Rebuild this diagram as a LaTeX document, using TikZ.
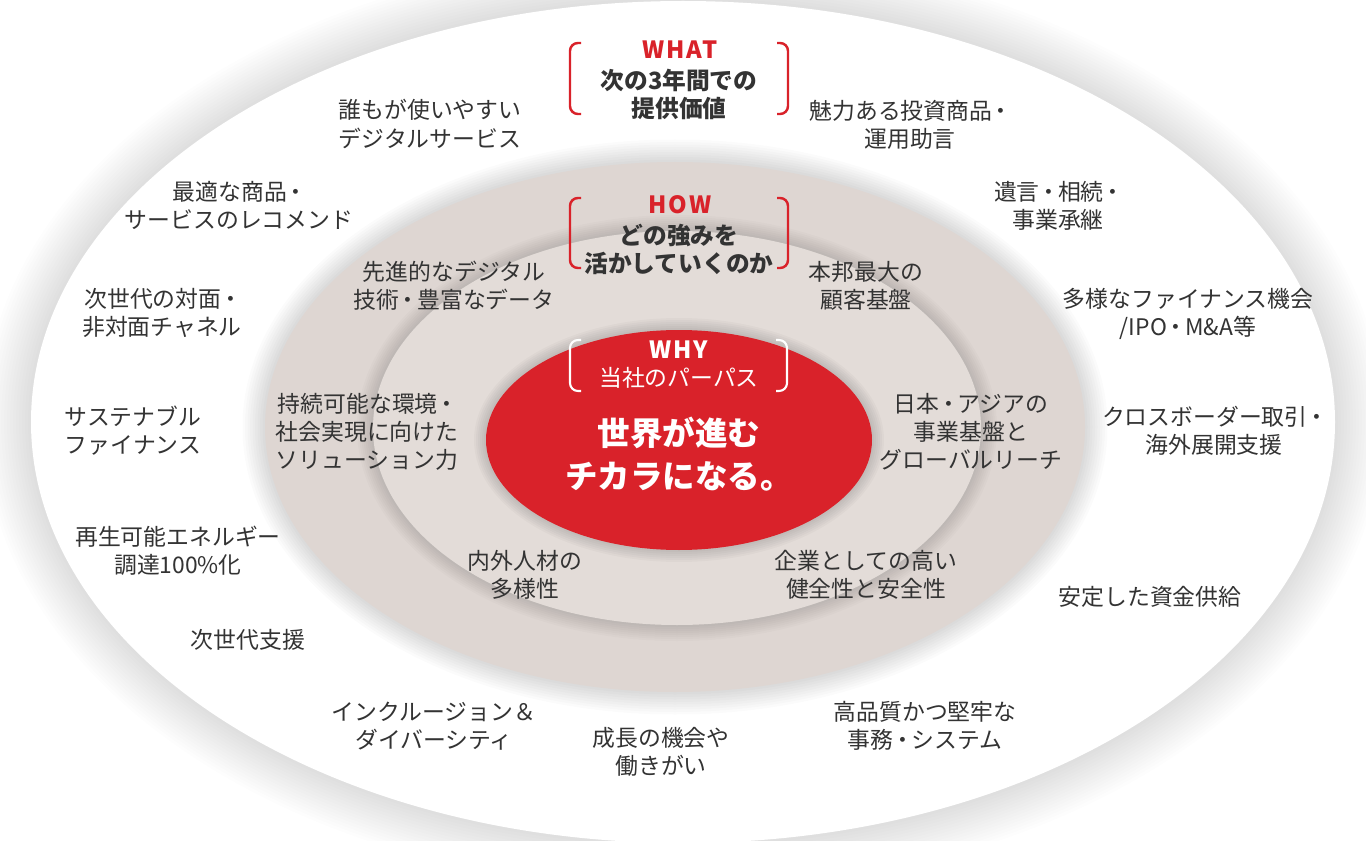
\documentclass[tikz,border=0pt]{standalone}
\usepackage{fontspec}
\setmainfont{Noto Sans CJK JP}
\newcommand\nk{\kern-0.1em・\kern-0.1em}
\definecolor{bred}{HTML}{D9222A}
\definecolor{ringA}{HTML}{DED6D2}
\definecolor{ringB}{HTML}{E3DCD8}
\definecolor{txt}{HTML}{333333}
\newcommand\glowell[7]{%
  \foreach \k in {#5,...,1}{%
    \fill[black,opacity=#7] (#1,#2) ellipse [x radius={(#3+\k*#6)*0.02cm}, y radius={(#4+\k*#6)*0.02cm}];}}
\newcommand\plainell[5]{%
  \fill[#5] (#1,#2) ellipse [x radius={#3*0.02cm}, y radius={#4*0.02cm}];}
\tikzset{
  lbl/.style={text=txt, align=center, inner sep=0pt, font=\fontsize{13}{16}\selectfont},
  head/.style={text=txt, align=center, inner sep=0pt, font=\fontsize{13.5}{16}\selectfont\bfseries},
  redhead/.style={text=bred, inner sep=0pt, font=\fontsize{13.5}{16}\selectfont\bfseries\addfontfeatures{LetterSpace=8}},
  brk/.style={draw=bred, line width=1.4pt, rounded corners=4.5pt},
  wbrk/.style={draw=white, line width=1.2pt, rounded corners=4.5pt},
}
\begin{document}
\begin{tikzpicture}[x=0.02cm,y=-0.02cm]
\useasboundingbox (0,0) rectangle (1366,841);
\fill[white] (0,0) rectangle (1366,841);
% outer
\glowell{683}{422}{652}{421}{16}{3}{0.008}
\plainell{683}{422}{652}{421}{white}
% middle
\glowell{675}{427}{410}{265}{9}{2.5}{0.014}
\plainell{675}{427}{410}{265}{ringA}
% inner
\glowell{677}{428}{304}{197}{8}{2}{0.014}
\plainell{677}{428}{304}{197}{ringB}
% red
\glowell{679}{440}{193}{110}{6}{2}{0.025}
\plainell{679}{440}{193}{110}{bred}

% WHAT block
\draw[brk] (581,43) -- (570,43) -- (570,114) -- (581,114);
\draw[brk] (777,43) -- (788,43) -- (788,114) -- (777,114);
\node[redhead] (what) at (680,50) {WHAT};
\node[head] (whatt) at (679,94) {次の3年間での\\提供価値};
% HOW block
\draw[brk] (581,198) -- (570,198) -- (570,268) -- (581,268);
\draw[brk] (777,198) -- (788,198) -- (788,268) -- (777,268);
\node[redhead] (how) at (680,205) {HOW};
\node[head] (howt) at (679,249) {どの強みを\\活かしていくのか};
% WHY block
\draw[wbrk] (581,340) -- (570,340) -- (570,391) -- (581,391);
\draw[wbrk] (776,340) -- (787,340) -- (787,391) -- (776,391);
\node[text=white, inner sep=0pt, font=\fontsize{13.5}{16}\selectfont\bfseries\addfontfeatures{LetterSpace=8}] (why) at (679,350) {WHY};
\node[text=white, inner sep=0pt, font=\fontsize{13}{16}\selectfont] (whyt) at (679,378) {当社のパーパス};
\node[text=white, align=center, inner sep=0pt, font=\fontsize{18.5}{24.5}\selectfont\bfseries] (purpose) at (679,454) {世界が進む\\チカラになる。};

% outer ring labels
\node[lbl] (o1) at (430,124) {誰もが使いやすい\\デジタルサービス};
\node[lbl] (o2) at (910,125) {魅力ある投資商品\nk\\運用助言};
\node[lbl] (o3) at (239,205) {最適な商品\nk\\サービスのレコメンド};
\node[lbl] (o4) at (1058,206) {遺言\nk 相続\nk\\事業承継};
\node[lbl] (o5) at (162,313) {次世代の対面\nk\\非対面チャネル};
\node[lbl] (o6) at (1188,314) {多様なファイナンス機会\\/IPO\nk M\&A等};
\node[lbl] (o7) at (133,431) {サステナブル\\ファイナンス};
\node[lbl] (o8) at (1214,431) {クロスボーダー取引\nk\\海外展開支援};
\node[lbl] (o9) at (178,551) {再生可能エネルギー\\調達100\%化};
\node[lbl] (o10) at (1150,597) {安定した資金供給};
\node[lbl] (o11) at (248,640) {次世代支援};
\node[lbl] (o12) at (434,726) {インクルージョン＆\\ダイバーシティ};
\node[lbl] (o13) at (661,752) {成長の機会や\\働きがい};
\node[lbl] (o14) at (925,726) {高品質かつ堅牢な\\事務\nk システム};

% middle ring labels
\node[lbl] (m1) at (454,286) {先進的なデジタル\\技術\nk 豊富なデータ};
\node[lbl] (m2) at (866,286) {本邦最大の\\顧客基盤};
\node[lbl] (m3) at (367,432) {持続可能な環境\nk\\社会実現に向けた\\ソリューション力};
\node[lbl] (m4) at (971,432) {日本\nk アジアの\\事業基盤と\\グローバルリーチ};
\node[lbl] (m5) at (525,575) {内外人材の\\多様性};
\node[lbl] (m6) at (866,575) {企業としての高い\\健全性と安全性};
\end{tikzpicture}
\end{document}
